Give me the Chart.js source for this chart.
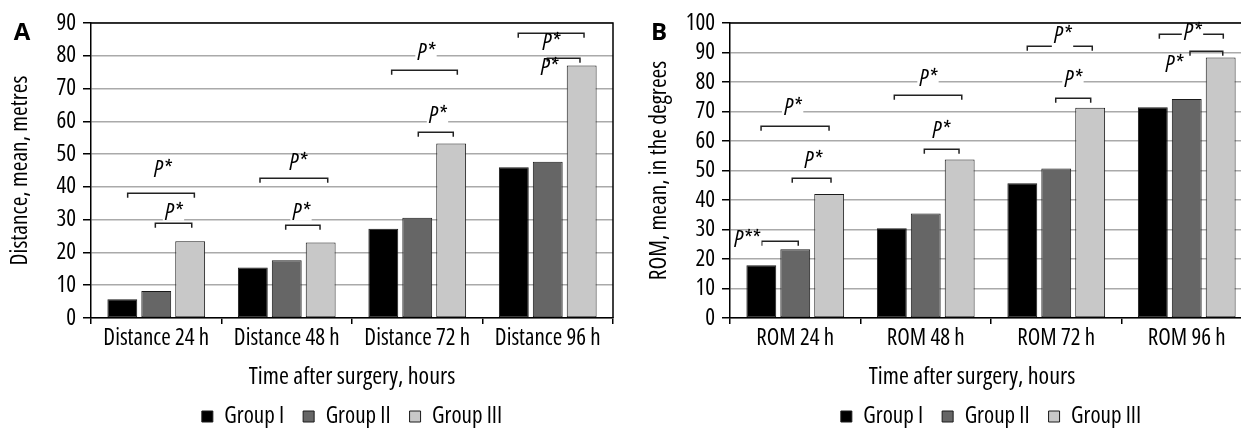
<!DOCTYPE html>
<html><head><meta charset="utf-8">
<script src="https://cdn.jsdelivr.net/npm/chart.js@4.4.1/dist/chart.umd.min.js"></script>
<style>
html,body{margin:0;padding:0;background:#fff;overflow:hidden;width:1241px;height:428px;position:relative;}
#wa{position:absolute;left:0;top:0;width:620px;height:428px;}
#wb{position:absolute;left:620px;top:0;width:639px;height:428px;}
canvas{display:block;}
</style></head><body>
<div id="wa"><canvas id="ca" width="620" height="428"></canvas></div>
<div id="wb"><canvas id="cb" width="639" height="428"></canvas></div>
<script>
// ---- data ----
const seriesNames = ['Group I', 'Group II', 'Group III'];

const categoriesA = ['Distance 24 h', 'Distance 48 h', 'Distance 72 h', 'Distance 96 h'];
const groupI_A   = [5.7, 15.4, 27.2, 46.0];
const groupII_A  = [8.2, 17.6, 30.6, 47.7];
const groupIII_A = [23.4, 23.0, 53.2, 77.0];

const categoriesB = ['ROM 24 h', 'ROM 48 h', 'ROM 72 h', 'ROM 96 h'];
const groupI_B   = [17.9, 30.4, 45.7, 71.4];
const groupII_B  = [23.3, 35.4, 50.7, 74.2];
const groupIII_B = [42.0, 53.7, 71.3, 88.3];

const yTicksA = {min: 0, max: 90, step: 10};
const yTicksB = {min: 0, max: 100, step: 10};

// significance brackets: [from (category units), to, level, label x, label y, text, label breaks the line]
const bracketsA = [
  [-0.219, 0.292, 38.1, 0.048, 45.1, 'P*', false],
  [-0.007, 0.272, 29.1, 0.132, 31.8, 'P*', false],
  [0.795, 1.314, 42.7, 1.086, 47.1, 'P*', false],
  [0.992, 1.255, 28.5, 1.109, 31.8, 'P*', false],
  [1.804, 2.307, 75.8, 2.067, 80.7, 'P*', false],
  [2.008, 2.276, 56.6, 2.155, 61.5, 'P*', false],
  [2.774, 3.278, 86.8, 3.025, 83.7, 'P*', false],
  [2.997, 3.247, 79.4, 3.010, 76.1, 'P*', false]
];
const bracketsB = [
  [-0.257, 0.023, 26.0, -0.372, 26.3, 'P**', false],
  [-0.023, 0.274, 47.5, 0.136, 52.9, 'P*', false],
  [-0.262, 0.259, 65.1, -0.020, 71.0, 'P*', false],
  [0.759, 1.276, 75.7, 1.017, 80.9, 'P*', false],
  [0.989, 1.255, 57.2, 1.117, 63.3, 'P*', false],
  [1.778, 2.276, 92.1, 2.048, 95.5, 'P*', true],
  [1.996, 2.264, 74.6, 2.128, 80.6, 'P*', false],
  [2.790, 3.280, 96.4, 3.044, 96.4, 'P*', true],
  [3.025, 3.276, 90.4, 2.902, 85.7, 'P*', false]
];

// ---- style ----
const FAMILY = '"Open Sans", "DejaVu Sans Condensed", sans-serif';
Chart.defaults.font.family = FAMILY;
Chart.defaults.font.weight = 'condensed';
Chart.defaults.color = '#000';
const fills = ['#000000', '#666666', '#c8c8c8'];

const panelDecor = {
  id: 'panelDecor',
  afterLayout(chart, args, opts) {
    const lg = chart.legend, ca = chart.chartArea;
    if (!lg) return;
    const dx = (ca.left + ca.right) / 2 - (lg.left + lg.right) / 2;
    lg.left += dx; lg.right += dx;
    lg.top += opts.legendDy; lg.bottom += opts.legendDy;
  },
  afterDatasetsDraw(chart, args, opts) {
    const ctx = chart.ctx, xs = chart.scales.x, ys = chart.scales.y;
    ctx.save();
    ctx.lineWidth = 1.5;
    ctx.strokeStyle = '#222';
    opts.brackets.forEach(b => {
      const x1 = xs.getPixelForValue(b[0]), x2 = xs.getPixelForValue(b[1]);
      const y = Math.round(ys.getPixelForValue(b[2])) + 0.25;
      ctx.beginPath();
      ctx.moveTo(x1, y + 4.5); ctx.lineTo(x1, y); ctx.lineTo(x2, y); ctx.lineTo(x2, y + 4.5);
      ctx.stroke();
    });
    ctx.font = 'italic condensed 23px ' + FAMILY;
    ctx.textAlign = 'center';
    ctx.textBaseline = 'middle';
    opts.brackets.forEach(b => {
      const lx = xs.getPixelForValue(b[3]), ly = ys.getPixelForValue(b[4]);
      const w = ctx.measureText(b[5]).width;
      let top = ly - 7, bottom = ly + 7;
      if (b[6]) {
        const by = ys.getPixelForValue(b[2]);
        top = Math.min(top, by - 2); bottom = Math.max(bottom, by + 2);
      }
      ctx.fillStyle = '#fff';
      ctx.fillRect(lx - w / 2 - 2, top, w + 4, bottom - top);
      ctx.fillStyle = '#000';
      ctx.fillText(b[5], lx, ly);
    });
    ctx.restore();
  },
  afterDraw(chart, args, opts) {
    const ctx = chart.ctx, ca = chart.chartArea;
    ctx.save();
    ctx.strokeStyle = '#000';
    ctx.lineWidth = 1.5;
    ctx.beginPath();
    ctx.moveTo(ca.left, ca.top); ctx.lineTo(ca.right, ca.top); ctx.lineTo(ca.right, ca.bottom);
    ctx.stroke();
    ctx.fillStyle = '#000';
    ctx.textAlign = 'center';
    ctx.textBaseline = 'middle';
    ctx.font = 'bold 24px "Open Sans", sans-serif';
    ctx.fillText(opts.letter, opts.letterX, 33.5);
    ctx.font = 'condensed 24px ' + FAMILY;
    ctx.fillText(opts.xTitle, opts.xTitleX, 377);
    ctx.restore();
  }
};

function makeChart(id, cats, series, yt, yTitle, yWidth, yTitlePad, decor) {
  return new Chart(document.getElementById(id), {
    type: 'bar',
    data: {
      labels: cats,
      datasets: series.map((d, i) => ({
        label: seriesNames[i], data: d,
        backgroundColor: fills[i], borderColor: '#1a1a1a', borderWidth: 1, borderSkipped: false
      }))
    },
    options: {
      responsive: false, animation: false, devicePixelRatio: 1,
      layout: {padding: {top: 23, right: 7, bottom: 0, left: 0}},
      datasets: {bar: {categoryPercentage: 0.78, barPercentage: 0.88}},
      scales: {
        x: {
          grid: {display: true, drawOnChartArea: false, drawTicks: true, tickLength: 6,
                 tickColor: '#000', tickWidth: 1.5, lineWidth: 1.5, color: '#000'},
          border: {display: true, color: '#000', width: 1.5, z: 1},
          ticks: {font: {size: 23, lineHeight: 1}, color: '#000', padding: 3, maxRotation: 0, autoSkip: false},
          afterFit: s => { s.height = 58; }
        },
        y: {
          min: yt.min, max: yt.max,
          ticks: {stepSize: yt.step, font: {size: 23}, color: '#000', padding: 7, autoSkip: false},
          grid: {color: '#aaaaaa', lineWidth: 1.5, tickLength: 8, tickColor: '#000', tickWidth: 1.5},
          border: {display: true, color: '#000', width: 1.5, z: 1},
          title: {display: true, text: yTitle, font: {size: 23.5}, color: '#000', padding: {top: yTitlePad, bottom: 0}},
          afterFit: s => { s.width = yWidth; }
        }
      },
      plugins: {
        legend: {position: 'bottom', labels: {boxWidth: 11, boxHeight: 11, padding: 19, font: {size: 23}, color: '#000'}},
        tooltip: {enabled: false},
        panelDecor: decor
      }
    },
    plugins: [panelDecor]
  });
}

makeChart('ca', categoriesA, [groupI_A, groupII_A, groupIII_A], yTicksA,
  'Distance, mean, metres', 91, 6,
  {brackets: bracketsA, letter: 'A', letterX: 22, xTitle: 'Time after surgery, hours', xTitleX: 352, legendDy: 10});
makeChart('cb', categoriesB, [groupI_B, groupII_B, groupIII_B], yTicksB,
  'ROM, mean, in the degrees', 110, 25,
  {brackets: bracketsB, letter: 'B', letterX: 39, xTitle: 'Time after surgery, hours', xTitleX: 352, legendDy: 10});
</script>
</body></html>
